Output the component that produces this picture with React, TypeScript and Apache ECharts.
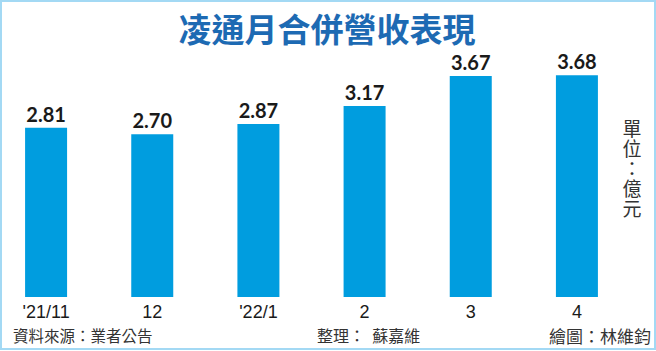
import React, { useEffect, useRef } from "react";
import * as echarts from "echarts";

const categories = ["'21/11", "12", "'22/1", "2", "3", "4"];
const revenue = [2.81, 2.7, 2.87, 3.17, 3.67, 3.68];
const titleText = "凌通月合併營收表現";
const unitText = "單位：億元";
const sourceText = "資料來源：業者公告";
const editorText = "整理：  蘇嘉維";
const artistText = "繪圖：林維鈞";

const OFF = 7; // chart canvas starts 7px left of the page so the first band can start off-page

export default function App() {
  const ref = useRef<HTMLDivElement>(null);
  useEffect(() => {
    if (!ref.current) return;
    const chart = echarts.init(ref.current, null, { renderer: "svg" });
    const cjk = "'Noto Sans CJK TC', 'Noto Sans CJK SC', sans-serif";
    const unitChars = unitText.split("").map((ch, i) => ({
      type: "text",
      x: 632 + OFF,
      y: 118 + i * 20,
      style: {
        text: ch,
        fill: "#333333",
        font: `19px ${cjk}`,
        lineHeight: 19,
        align: "center",
        verticalAlign: "top",
      },
    }));
    chart.setOption({
      animation: false,
      backgroundColor: "#ffffff",
      grid: { left: 0, right: 26, top: 56, bottom: 54, containLabel: false },
      xAxis: {
        type: "category",
        data: categories,
        axisLine: { show: false },
        axisTick: { show: false },
        axisLabel: {
          color: "#1a1a1a",
          fontFamily: "'Liberation Sans', Arial, sans-serif",
          fontSize: 18,
          margin: 6,
        },
      },
      yAxis: {
        type: "value",
        min: 0,
        max: 4,
        show: false,
        splitLine: { show: false },
      },
      series: [
        {
          type: "bar",
          data: revenue,
          barWidth: 42,
          itemStyle: { color: "#009ddf" },
          label: {
            show: true,
            position: "top",
            distance: 4,
            formatter: (p: any) => Number(p.value).toFixed(2),
            color: "#1a1a1a",
            fontFamily: "Lato, 'Noto Sans', sans-serif",
            fontWeight: "bold",
            fontSize: 20,
          },
        },
      ],
      graphic: [
        {
          type: "rect",
          shape: { x: 1 + OFF, y: 1, width: 654, height: 348 },
          style: { fill: "none", stroke: "#a3d9f4", lineWidth: 2 },
          silent: true,
        },
        {
          type: "text",
          x: 327 + OFF,
          y: 28,
          style: {
            text: titleText,
            fill: "#1d6ab3",
            font: `bold 33px ${cjk}`,
            align: "center",
            verticalAlign: "middle",
          },
        },
        ...unitChars,
        {
          type: "text",
          x: 13 + OFF,
          y: 335,
          style: {
            text: sourceText,
            fill: "#333333",
            font: `15.5px ${cjk}`,
            align: "left",
            verticalAlign: "middle",
          },
        },
        {
          type: "text",
          x: 317 + OFF,
          y: 335,
          style: {
            text: editorText,
            fill: "#333333",
            font: `16px ${cjk}`,
            align: "left",
            verticalAlign: "middle",
          },
        },
        {
          type: "text",
          x: 651 + OFF,
          y: 335,
          style: {
            text: artistText,
            fill: "#333333",
            font: `17px ${cjk}`,
            align: "right",
            verticalAlign: "middle",
          },
        },
      ],
    });
    return () => chart.dispose();
  }, []);
  return (
    <div
      ref={ref}
      style={{ position: "fixed", left: -OFF, top: 0, width: 656 + OFF, height: 351, background: "#fff" }}
    />
  );
}
